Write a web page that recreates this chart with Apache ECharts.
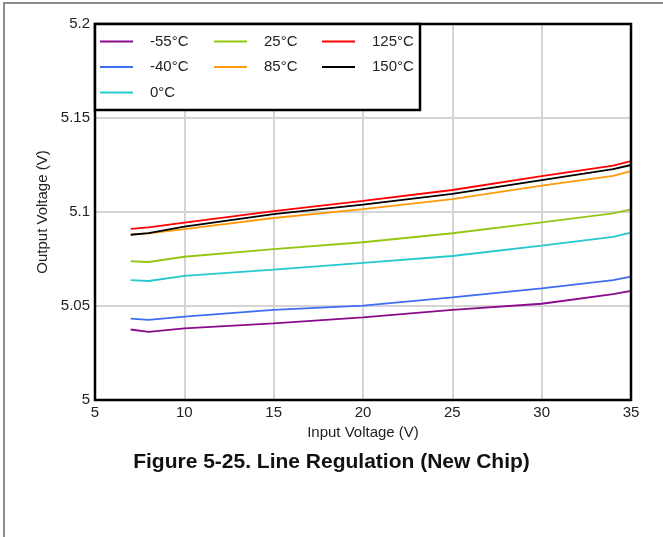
<!DOCTYPE html>
<html>
<head>
<meta charset="utf-8">
<script src="https://cdn.jsdelivr.net/npm/echarts@6/dist/echarts.min.js"></script>
<style>
	html, body { margin: 0; padding: 0; background: #fff; }
	#chart { width: 663px; height: 537px; }
</style>
</head>
<body>
<div id="chart"></div>
<script>
// input voltage (V) where readings were taken
var vin = [7, 8, 10, 15, 20, 25, 30, 34, 35];

// output voltage (V) per temperature
var tM55 = [5.0375, 5.0362, 5.0381, 5.0408, 5.0440, 5.0479, 5.0512, 5.0563, 5.0580];
var tM40 = [5.0433, 5.0426, 5.0443, 5.0479, 5.0502, 5.0546, 5.0594, 5.0638, 5.0656];
var t0   = [5.0638, 5.0633, 5.0660, 5.0693, 5.0729, 5.0766, 5.0821, 5.0868, 5.0890];
var t25  = [5.0738, 5.0734, 5.0762, 5.0803, 5.0839, 5.0887, 5.0945, 5.0993, 5.1014];
var t85  = [5.0880, 5.0886, 5.0909, 5.0968, 5.1015, 5.1068, 5.1140, 5.1192, 5.1218];
var t125 = [5.0910, 5.0918, 5.0943, 5.1005, 5.1059, 5.1117, 5.1191, 5.1247, 5.1271];
var t150 = [5.0879, 5.0888, 5.0922, 5.0989, 5.1039, 5.1096, 5.1170, 5.1228, 5.1250];

var names = ['-55°C', '-40°C', '0°C', '25°C', '85°C', '125°C', '150°C'];
var colors = ['#8b0a8b', '#3d6df2', '#25c9cc', '#94c712', '#ff9a0a', '#ff0000', '#000000'];
var values = [tM55, tM40, t0, t25, t85, t125, t150];

var font = 'Liberation Sans, Arial, sans-serif';

var legendBlock = function (items, left) {
	return {
		data: items,
		orient: 'vertical',
		left: left,
		top: 34,
		padding: 0,
		itemGap: 10.5,
		itemWidth: 33,
		itemHeight: 2,
		icon: 'rect',
		textStyle: { fontFamily: font, fontSize: 15, color: '#222', padding: [0, 0, 0, 12] }
	};
};

var chart = echarts.init(document.getElementById('chart'), null, { renderer: 'canvas' });
chart.setOption({
	animation: false,
	backgroundColor: '#fff',
	color: colors,
	title: {
		text: 'Figure 5-25. Line Regulation (New Chip)',
		left: 'center',
		top: 452,
		padding: 0,
		textStyle: { fontFamily: font, fontSize: 21, fontWeight: 'bold', color: '#111' }
	},
	legend: [
		legendBlock(names.slice(0, 3), 100),
		legendBlock(names.slice(3, 5), 214),
		legendBlock(names.slice(5, 7), 322)
	],
	graphic: [
		{
			type: 'rect', z: 0, silent: true,
			shape: { x: 4, y: 3, width: 720, height: 600 },
			style: { fill: 'none', stroke: '#8c8c8c', lineWidth: 2 }
		},
		{
			type: 'rect', z: 3, silent: true,
			shape: { x: 95, y: 24, width: 325, height: 86 },
			style: { fill: '#fff', stroke: '#000', lineWidth: 2.5 }
		}
	],
	grid: {
		left: 95, right: 32, top: 24, bottom: 137,
		show: true, borderColor: '#000', borderWidth: 2.5, z: 2
	},
	xAxis: {
		type: 'value',
		min: 5, max: 35, interval: 5,
		name: 'Input Voltage (V)',
		nameLocation: 'middle',
		nameGap: 24,
		nameTextStyle: { fontFamily: font, fontSize: 15, color: '#222' },
		axisLine: { show: false },
		axisTick: { show: false },
		axisLabel: { fontFamily: font, fontSize: 15, color: '#222', margin: 5 },
		splitLine: { lineStyle: { color: '#d4d4d4', width: 2 } }
	},
	yAxis: {
		type: 'value',
		min: 5, max: 5.2, interval: 0.05,
		name: 'Output Voltage (V)',
		nameLocation: 'middle',
		nameGap: 41,
		nameTextStyle: { fontFamily: font, fontSize: 15, color: '#222' },
		axisLine: { show: false },
		axisTick: { show: false },
		axisLabel: { fontFamily: font, fontSize: 15, color: '#222', margin: 5 },
		splitLine: { lineStyle: { color: '#d4d4d4', width: 2 } }
	},
	series: names.map(function (n, k) {
		return {
			name: n,
			type: 'line',
			symbol: 'none',
			z: 1,
			lineStyle: { width: 1.8, color: colors[k] },
			data: vin.map(function (x, i) { return [x, values[k][i]]; })
		};
	})
});
</script>
</body>
</html>
